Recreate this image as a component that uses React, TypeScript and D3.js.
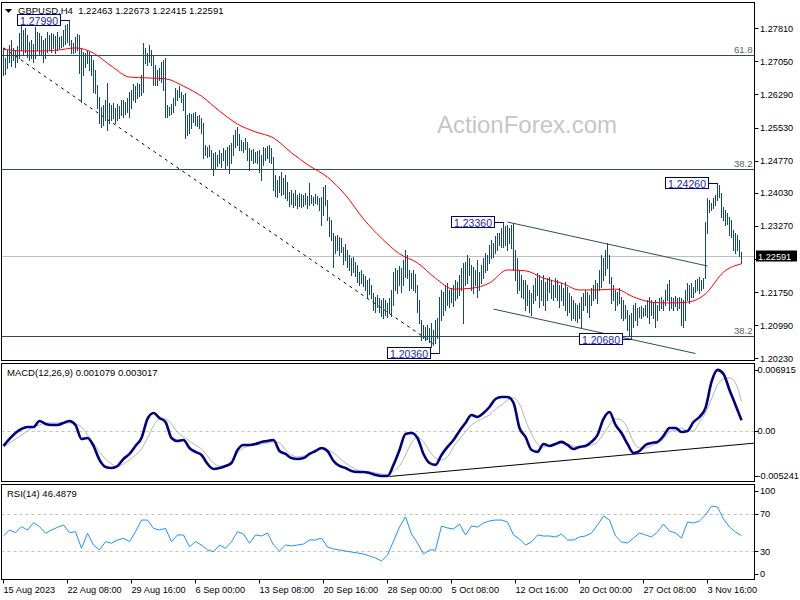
import React, { useEffect, useRef } from "react";
import * as d3 from "d3";

// GBPUSD H4 bars, 15 Aug 2023 00:00 -> 8 Nov 2023 12:00 (one entry per bar)
const highs = [
  1.2736, 1.2713, 1.2731, 1.2743, 1.2754, 1.2736, 1.2731, 1.274, 1.277, 1.2786,
  1.2777, 1.2782, 1.2766, 1.275, 1.2754, 1.2745, 1.2784, 1.2772, 1.277, 1.2763,
  1.2754, 1.2759, 1.2772, 1.2766, 1.277, 1.2768, 1.2763, 1.2772, 1.2761, 1.2763,
  1.2777, 1.2789, 1.2791, 1.2799, 1.2754, 1.2747, 1.2761, 1.2768, 1.2766, 1.2736,
  1.2727, 1.2724, 1.2731, 1.2727, 1.272, 1.2708, 1.2685, 1.2651, 1.2623, 1.26,
  1.2605, 1.2616, 1.2655, 1.2609, 1.2605, 1.2609, 1.2598, 1.2607, 1.2602, 1.2616,
  1.2616, 1.2612, 1.2621, 1.2635, 1.2639, 1.2653, 1.2648, 1.2655, 1.2653, 1.2674,
  1.2747, 1.2736, 1.2724, 1.2743, 1.2731, 1.272, 1.2697, 1.2685, 1.269, 1.2704,
  1.2708, 1.2713, 1.2605, 1.26, 1.2607, 1.2621, 1.2644, 1.2639, 1.2648, 1.2635,
  1.2628, 1.2632, 1.2582, 1.2586, 1.2584, 1.2586, 1.2589, 1.258, 1.2582, 1.2575,
  1.2563, 1.2513, 1.2508, 1.2513, 1.2501, 1.2495, 1.2497, 1.249, 1.2501, 1.2495,
  1.2506, 1.2501, 1.2508, 1.2513, 1.2517, 1.2536, 1.2547, 1.2554, 1.2538, 1.2524,
  1.252, 1.2529, 1.252, 1.2506, 1.2501, 1.2504, 1.2497, 1.2499, 1.2501, 1.249,
  1.2508, 1.2506, 1.2511, 1.2513, 1.2506, 1.2485, 1.2444, 1.2433, 1.2442, 1.2451,
  1.2437, 1.2444, 1.2428, 1.2405, 1.241, 1.2403, 1.241, 1.2398, 1.2403, 1.24,
  1.2398, 1.2403, 1.2396, 1.2426, 1.2398, 1.2393, 1.24, 1.2396, 1.2391, 1.2393,
  1.2416, 1.2421, 1.2387, 1.2348, 1.2341, 1.2311, 1.2304, 1.2306, 1.2302, 1.2299,
  1.2279, 1.2286, 1.2272, 1.226, 1.2253, 1.2256, 1.2244, 1.2237, 1.2221, 1.2226,
  1.2217, 1.2212, 1.2203, 1.2207, 1.2191, 1.2173, 1.2164, 1.2168, 1.2161, 1.2157,
  1.2161, 1.2157, 1.215, 1.2161, 1.218, 1.2221, 1.223, 1.2226, 1.2235, 1.223,
  1.2249, 1.2272, 1.226, 1.2226, 1.2219, 1.2226, 1.2217, 1.2191, 1.2157, 1.2111,
  1.2099, 1.2095, 1.2099, 1.2093, 1.2104, 1.2088, 1.2111, 1.2116, 1.2164, 1.218,
  1.2175, 1.2191, 1.2196, 1.218, 1.2184, 1.2191, 1.2203, 1.2198, 1.2214, 1.223,
  1.2242, 1.2244, 1.226, 1.2253, 1.2237, 1.2233, 1.2226, 1.2249, 1.2221, 1.2237,
  1.2253, 1.2265, 1.226, 1.2283, 1.2295, 1.2288, 1.2304, 1.2311, 1.2311, 1.2322,
  1.2336, 1.2327, 1.2329, 1.2322, 1.2329, 1.2334, 1.2272, 1.2253, 1.2226, 1.2214,
  1.2203, 1.2203, 1.2191, 1.218, 1.2173, 1.2191, 1.2207, 1.2219, 1.2214, 1.2203,
  1.2214, 1.2198, 1.2207, 1.221, 1.2203, 1.2191, 1.2207, 1.2203, 1.2191, 1.2196,
  1.2184, 1.2198, 1.2187, 1.2173, 1.2166, 1.2157, 1.215, 1.2145, 1.215, 1.2164,
  1.2173, 1.218, 1.2175, 1.2168, 1.2184, 1.2191, 1.2203, 1.2196, 1.2226, 1.226,
  1.2253, 1.2272, 1.2288, 1.226, 1.221, 1.2191, 1.218, 1.2175, 1.2184, 1.2164,
  1.2157, 1.2145, 1.2134, 1.2122, 1.2127, 1.2145, 1.215, 1.2139, 1.2141, 1.2143,
  1.2139, 1.2145, 1.2157, 1.2164, 1.2157, 1.2152, 1.2157, 1.2145, 1.2161, 1.2164,
  1.2157, 1.218, 1.2194, 1.2203, 1.2164, 1.2161, 1.2166, 1.2161, 1.2164, 1.2161,
  1.2157, 1.218, 1.2196, 1.2191, 1.2196, 1.2187, 1.2203, 1.2205, 1.221, 1.2203,
  1.2207, 1.2336, 1.2391, 1.2387, 1.238, 1.2391, 1.2398, 1.2426, 1.2421, 1.2403,
  1.2371, 1.2364, 1.2357, 1.2348, 1.2341, 1.2318, 1.2311, 1.2306, 1.2295, 1.22673,
];

const lows = [
  1.2674, 1.2676, 1.269, 1.2704, 1.2694, 1.2708, 1.2692, 1.2704, 1.2713, 1.2731,
  1.272, 1.2727, 1.2715, 1.2708, 1.2713, 1.2704, 1.2713, 1.2731, 1.2722, 1.272,
  1.2704, 1.2713, 1.2727, 1.2731, 1.2727, 1.2736, 1.2724, 1.2731, 1.2736, 1.2738,
  1.274, 1.2745, 1.275, 1.2743, 1.2724, 1.2724, 1.2727, 1.2731, 1.2678, 1.2612,
  1.2674, 1.2692, 1.2701, 1.2685, 1.2674, 1.2635, 1.2632, 1.2598, 1.2563, 1.2554,
  1.2559, 1.257, 1.2547, 1.2563, 1.257, 1.2575, 1.2563, 1.257, 1.2575, 1.2582,
  1.2577, 1.2584, 1.2589, 1.2577, 1.2598, 1.2616, 1.2612, 1.2621, 1.2626, 1.2628,
  1.2635, 1.2701, 1.2697, 1.2704, 1.2697, 1.2651, 1.2651, 1.2651, 1.2662, 1.2658,
  1.2639, 1.2577, 1.2577, 1.2582, 1.2584, 1.2589, 1.2605, 1.2616, 1.2623, 1.2612,
  1.2593, 1.2529, 1.2536, 1.254, 1.2552, 1.2566, 1.2559, 1.2557, 1.2552, 1.254,
  1.2483, 1.249, 1.2485, 1.2488, 1.246, 1.2444, 1.246, 1.2465, 1.2472, 1.2462,
  1.2478, 1.246, 1.2467, 1.2449, 1.2472, 1.249, 1.2508, 1.2513, 1.2501, 1.2501,
  1.2497, 1.2504, 1.2478, 1.2456, 1.2478, 1.2472, 1.2474, 1.2472, 1.2451, 1.2433,
  1.2467, 1.2478, 1.2483, 1.2474, 1.2472, 1.241, 1.2396, 1.2393, 1.2405, 1.2398,
  1.24, 1.2391, 1.2387, 1.2373, 1.2377, 1.2371, 1.2375, 1.2368, 1.2373, 1.2371,
  1.2373, 1.2377, 1.2368, 1.2375, 1.238, 1.2375, 1.238, 1.2377, 1.2364, 1.2329,
  1.2352, 1.2375, 1.2341, 1.2304, 1.2295, 1.2233, 1.2265, 1.2272, 1.226, 1.2267,
  1.224, 1.2249, 1.2233, 1.2226, 1.2214, 1.2221, 1.2212, 1.2198, 1.2191, 1.2196,
  1.2189, 1.218, 1.2164, 1.2171, 1.2161, 1.2134, 1.2129, 1.2141, 1.2129, 1.212,
  1.2116, 1.2122, 1.2118, 1.2127, 1.212, 1.2145, 1.218, 1.2173, 1.2191, 1.2175,
  1.2191, 1.221, 1.2207, 1.218, 1.2184, 1.218, 1.2175, 1.2129, 1.2104, 1.2065,
  1.207, 1.2065, 1.2067, 1.206, 1.2049, 1.2054, 1.2058, 1.207, 1.2036, 1.2111,
  1.2122, 1.2134, 1.2145, 1.2141, 1.2152, 1.2143, 1.2157, 1.2161, 1.2168, 1.218,
  1.2104, 1.2191, 1.2196, 1.2214, 1.218, 1.2173, 1.2191, 1.2164, 1.218, 1.2196,
  1.2207, 1.2221, 1.2226, 1.2242, 1.2253, 1.2256, 1.2265, 1.2272, 1.2283, 1.2279,
  1.2279, 1.2283, 1.2272, 1.2288, 1.2276, 1.2226, 1.2203, 1.2173, 1.218, 1.2164,
  1.2161, 1.2134, 1.2145, 1.2129, 1.2122, 1.215, 1.2157, 1.2168, 1.2141, 1.2157,
  1.2145, 1.2134, 1.2157, 1.2175, 1.2161, 1.2157, 1.2164, 1.2157, 1.2141, 1.2157,
  1.2145, 1.2134, 1.2122, 1.2129, 1.2111, 1.2116, 1.2111, 1.2106, 1.2116, 1.2093,
  1.2134, 1.2145, 1.2129, 1.2118, 1.2145, 1.2157, 1.2161, 1.215, 1.218, 1.2187,
  1.2203, 1.2214, 1.223, 1.2196, 1.215, 1.2157, 1.2134, 1.2145, 1.215, 1.2116,
  1.2111, 1.2116, 1.2088, 1.2077, 1.2068, 1.2095, 1.2111, 1.2099, 1.2118, 1.2116,
  1.212, 1.2122, 1.2118, 1.2104, 1.2122, 1.2116, 1.2095, 1.2111, 1.2134, 1.2139,
  1.2134, 1.2145, 1.2157, 1.2134, 1.2139, 1.2134, 1.2143, 1.2134, 1.2139, 1.2099,
  1.2095, 1.2111, 1.2157, 1.215, 1.2164, 1.2164, 1.2175, 1.218, 1.2173, 1.218,
  1.2184, 1.2207, 1.2311, 1.2359, 1.2364, 1.2368, 1.2375, 1.2387, 1.2393, 1.2348,
  1.2341, 1.2329, 1.2331, 1.2306, 1.2302, 1.2272, 1.2265, 1.2272, 1.2258, 1.22415,
];

// last bar: open, high, low, close
const lastQuote = [1.22463, 1.22673, 1.22415, 1.22591];

// red moving average, read every 9th bar
const MA_STEP = 9;
const maValues = [
  1.2733, 1.2729, 1.2729, 1.2731, 1.2736, 1.2724, 1.2694, 1.2669, 1.2667, 1.2665,
  1.2648, 1.2625, 1.2591, 1.2561, 1.2543, 1.2529, 1.2495, 1.2465, 1.2439, 1.2398,
  1.2343, 1.2299, 1.2263, 1.2242, 1.2207, 1.2182, 1.2184, 1.2196, 1.2226, 1.2224,
  1.2207, 1.2196, 1.218, 1.218, 1.2182, 1.2164, 1.2152, 1.215, 1.2152, 1.2171,
  1.2221, 1.224,
];

// MACD(12,26,9) and RSI(14), read every 3rd bar
const IND_STEP = 3;
const macdMain = [
  -0.0016, -0.00087, -0.00025, 0.00017, 0.00037, 0.00037, 0.001, 0.00069, 0.00058, 0.00058,
  0.00079, 0.001, 0.00058, -0.00087, -0.00077, -0.0016, -0.00305, -0.00378, -0.00389, -0.00368,
  -0.00295, -0.00243, -0.0016, -0.00077, 0.00121, 0.00183, 0.00131, 0.00089, -0.00077, -0.00108,
  -0.00098, -0.00181, -0.00222, -0.00254, -0.00347, -0.00399, -0.00389, -0.00368, -0.00337, -0.00202,
  -0.0015, -0.0015, -0.00139, -0.00118, -0.00108, -0.00098, -0.00212, -0.00243, -0.00285, -0.00295,
  -0.00285, -0.00243, -0.00212, -0.00181, -0.00212, -0.00316, -0.00368, -0.00389, -0.0042, -0.0043,
  -0.0043, -0.00441, -0.00461, -0.00472, -0.00472, -0.00357, -0.00202, -0.00035, -0.00025, -0.00077,
  -0.00243, -0.00337, -0.00357, -0.00254, -0.0017, -0.00098, -0.00004, 0.00079, 0.00162, 0.00141,
  0.00183, 0.00245, 0.00328, 0.00349, 0.00349, 0.00287, 0.00027, -0.00066, -0.00202, -0.00222,
  -0.00139, -0.0016, -0.00139, -0.00118, -0.0015, -0.00191, -0.0017, -0.0016, -0.00118, -0.00046,
  0.00121, 0.00193, 0.00058, -0.00025, -0.00139, -0.00233, -0.00212, -0.0015, -0.00129, -0.00118,
  -0.00056, 0.00027, 0.00027, -0.00015, -0.00004, 0.00089, 0.00141, 0.00235, 0.00505, 0.0063,
  0.00588, 0.00422, 0.00266, 0.001079,
];
const macdSignal = [
  -0.0017, -0.00129, -0.00087, -0.00046, -0.00004, 0.00037, 0.00058, 0.00079, 0.00079, 0.00079,
  0.00079, 0.00079, 0.00069, 0.00037, -0.00046, -0.00129, -0.00222, -0.00295, -0.00347, -0.00378,
  -0.00347, -0.00305, -0.00254, -0.00191, -0.00077, 0.00048, 0.00121, 0.00121, 0.00069, -0.00015,
  -0.00066, -0.00108, -0.0015, -0.00191, -0.00264, -0.00337, -0.00368, -0.00368, -0.00316, -0.00233,
  -0.00181, -0.0016, -0.0015, -0.00139, -0.00129, -0.00118, -0.00129, -0.00202, -0.00254, -0.00274,
  -0.00264, -0.00254, -0.00222, -0.00191, -0.00202, -0.00233, -0.00285, -0.00337, -0.00378, -0.00409,
  -0.0043, -0.0043, -0.00441, -0.00451, -0.00461, -0.0042, -0.00368, -0.00254, -0.00129, -0.00066,
  -0.00118, -0.00212, -0.00285, -0.00305, -0.00274, -0.0017, -0.00087, -0.00015, 0.00058, 0.001,
  0.00131, 0.00162, 0.00224, 0.00266, 0.00318, 0.00339, 0.00276, 0.0011, -0.00035, -0.00139,
  -0.0017, -0.0016, -0.0015, -0.00129, -0.00139, -0.0016, -0.0017, -0.0016, -0.0015, -0.00118,
  -0.00035, 0.00058, 0.00121, 0.0011, 0.00027, -0.00118, -0.00181, -0.00181, -0.0016, -0.00129,
  -0.00087, -0.00015, 0.00006, 0.00027, -0.00004, -0.00004, 0.00089, 0.00183, 0.00328, 0.00474,
  0.00536, 0.00547, 0.00495, 0.003017,
];
const rsiValues = [
  46.1, 52.5, 49.6, 56.1, 52.5, 60.3, 56.1, 49.0, 52.5, 55.4,
  57.9, 49.6, 50.7, 32.9, 49.0, 36.4, 31.1, 40.0, 38.3, 41.8,
  43.6, 40.0, 50.7, 63.2, 63.2, 54.3, 52.5, 54.3, 40.0, 47.2,
  47.2, 34.6, 40.0, 36.4, 31.1, 29.3, 36.4, 32.9, 40.0, 50.7,
  48.2, 38.3, 47.2, 46.1, 49.3, 36.4, 30.0, 36.4, 35.4, 36.4,
  37.5, 41.8, 41.8, 43.9, 34.3, 32.2, 31.1, 30.0, 28.9, 27.9,
  26.8, 24.7, 22.5, 19.3, 25.7, 40.7, 55.7, 66.5, 48.2, 38.6,
  26.8, 31.1, 31.1, 56.8, 54.7, 53.6, 58.9, 47.2, 56.8, 55.7,
  60.0, 62.2, 63.2, 63.2, 61.1, 47.2, 42.9, 36.4, 39.7, 47.2,
  46.1, 46.1, 45.0, 48.2, 41.8, 41.8, 45.0, 46.1, 49.3, 57.9,
  67.5, 63.2, 46.1, 39.7, 38.6, 43.9, 49.3, 47.2, 45.0, 50.4,
  58.9, 51.4, 49.3, 43.9, 61.1, 60.0, 62.2, 68.6, 78.2, 77.2,
  64.3, 55.7, 50.4, 46.4879,
];

// axis ticks
const priceTicks = [1.2781, 1.2705, 1.2629, 1.2553, 1.2477, 1.2403, 1.2327, 1.2251, 1.2175, 1.2099, 1.2023];
const macdTicks = [0.006915, 0, -0.005241];
const macdTickLabels = ["0.006915", "0.00", "-0.005241"];
const rsiTicks = [100, 70, 30, 0];
const timeTickBars = [0, 32, 64, 96, 128, 160, 192, 224, 256, 288, 320, 352];
const timeTickLabels = [
  "15 Aug 2023", "22 Aug 08:00", "29 Aug 16:00", "6 Sep 00:00", "13 Sep 08:00", "20 Sep 16:00",
  "28 Sep 00:00", "5 Oct 08:00", "12 Oct 16:00", "20 Oct 00:00", "27 Oct 08:00", "3 Nov 16:00",
];

// fibonacci levels drawn on the chart
const fibPrices = [1.272, 1.2458, 1.2075];
const fibLabels = ["61.8", "38.2", "38.2"];

// swing high / low price tags
const swingBars = [33, 218, 250, 314, 357];
const swingPrices = [1.2799, 1.2036, 1.2336, 1.2068, 1.2426];

// trend lines (bar index, price)
const dashTrendBars = [0, 216];
const dashTrendPrices = [1.2736, 1.2053];
const channelTopBars = [252, 352];
const channelTopPrices = [1.2336, 1.2235];
const channelLowBars = [245, 346];
const channelLowPrices = [1.2136, 1.2034];
const macdTrendBars = [193, 369];
const macdTrendValues = [-0.00477, -0.00143];

const FONT = "'Liberation Sans', Arial, sans-serif";
const AXIS_FONT_SIZE = 9.2;
const BAR_COLOR = "#174a68";
const OBJ_COLOR = "#2f4f4f";

const App: React.FC = () => {
  const svgRef = useRef<SVGSVGElement>(null);

  useEffect(() => {
    if (!svgRef.current) return;
    document.body.style.margin = "0";

    const svg = d3.select(svgRef.current);
    svg.selectAll("*").remove();

    const left = 1.5;
    const right = 754.5;
    const price = { top: 2.5, bottom: 360.5 };
    const macd = { top: 363.5, bottom: 481.5 };
    const rsi = { top: 484.5, bottom: 579.5 };

    const n = highs.length;
    const x = d3.scaleLinear().domain([0, n - 1]).range([3.5, 3.5 + 2 * (n - 1)]);
    const yPrice = d3.scaleLinear().domain([1.2023, 1.2781]).range([358.3, 28.3]);
    const yMacd = d3.scaleLinear().domain([-0.005241, 0.006915]).range([481, 364]);
    const yRsi = d3.scaleLinear().domain([0, 100]).range([579, 485.7]);

    const defs = svg.append("defs");
    const addClip = (id: string, top: number, bottom: number) =>
      defs
        .append("clipPath")
        .attr("id", id)
        .append("rect")
        .attr("x", left + 0.5)
        .attr("y", top + 0.5)
        .attr("width", right - left - 1)
        .attr("height", bottom - top - 1);
    addClip("clip-price", price.top, price.bottom);
    addClip("clip-macd", macd.top, macd.bottom);
    addClip("clip-rsi", rsi.top, rsi.bottom);

    svg.append("rect").attr("width", 800).attr("height", 600).attr("fill", "#fff");

    // ---------- price panel ----------
    const pg = svg.append("g").attr("clip-path", "url(#clip-price)");

    pg.append("text")
      .attr("x", 437)
      .attr("y", 133)
      .attr("font-family", FONT)
      .attr("font-size", 24)
      .attr("fill", "#c6c6c6")
      .text("ActionForex.com");

    // fib levels
    fibPrices.forEach((p, i) => {
      const yy = Math.round(yPrice(p)) + 0.5;
      pg.append("line")
        .attr("x1", left)
        .attr("x2", right)
        .attr("y1", yy)
        .attr("y2", yy)
        .attr("stroke", OBJ_COLOR)
        .attr("stroke-width", 1);
      pg.append("text")
        .attr("x", right - 2)
        .attr("y", yy - 3)
        .attr("text-anchor", "end")
        .attr("font-family", FONT)
        .attr("font-size", 9.5)
        .attr("fill", "#56636e")
        .text(fibLabels[i]);
    });

    // current price line
    const yClose = Math.round(yPrice(lastQuote[3])) + 0.5;
    pg.append("line")
      .attr("x1", left)
      .attr("x2", right)
      .attr("y1", yClose)
      .attr("y2", yClose)
      .attr("stroke", "#c0c0c0");

    // trend lines
    const trend = (bars: number[], prices: number[], dash?: string) =>
      pg
        .append("line")
        .attr("x1", x(bars[0]))
        .attr("y1", yPrice(prices[0]))
        .attr("x2", x(bars[1]))
        .attr("y2", yPrice(prices[1]))
        .attr("stroke", dash ? "#000" : OBJ_COLOR)
        .attr("stroke-width", 1)
        .attr("stroke-dasharray", dash || null);
    trend(dashTrendBars, dashTrendPrices, "3,4");
    trend(channelTopBars, channelTopPrices);
    trend(channelLowBars, channelLowPrices);

    // high-low bars
    pg.append("g")
      .attr("shape-rendering", "crispEdges")
      .selectAll("line")
      .data(highs)
      .join("line")
      .attr("x1", (_, i) => x(i))
      .attr("x2", (_, i) => x(i))
      .attr("y1", (d) => Math.round(yPrice(d)))
      .attr("y2", (_, i) => Math.round(yPrice(lows[i])) + 1)
      .attr("stroke", BAR_COLOR)
      .attr("stroke-width", 1);

    // moving average
    const maLine = d3
      .line<number>()
      .x((_, i) => x(i * MA_STEP))
      .y((d) => yPrice(d))
      .curve(d3.curveMonotoneX);
    pg.append("path")
      .datum(maValues)
      .attr("d", maLine)
      .attr("fill", "none")
      .attr("stroke", "#ff0000")
      .attr("stroke-width", 1);

    // swing tags
    swingBars.forEach((b, i) => {
      const px = x(b);
      const py = Math.round(yPrice(swingPrices[i])) + 0.5;
      const bw = 43;
      const bx = Math.round(px - 10 - bw) + 0.5;
      pg.append("line")
        .attr("x1", bx + bw)
        .attr("x2", px)
        .attr("y1", py)
        .attr("y2", py)
        .attr("stroke", "#000080");
      pg.append("rect")
        .attr("x", bx)
        .attr("y", py - 6)
        .attr("width", bw)
        .attr("height", 11)
        .attr("fill", "#fff")
        .attr("stroke", "#000080");
      pg.append("text")
        .attr("x", bx + bw / 2)
        .attr("y", py + 4)
        .attr("text-anchor", "middle")
        .attr("font-family", FONT)
        .attr("font-size", 10.5)
        .attr("fill", "#1f1fa3")
        .text(swingPrices[i].toFixed(5));
    });

    // ---------- MACD panel ----------
    const mg = svg.append("g").attr("clip-path", "url(#clip-macd)");
    mg.append("line")
      .attr("x1", left)
      .attr("x2", right)
      .attr("y1", Math.round(yMacd(0)) + 0.5)
      .attr("y2", Math.round(yMacd(0)) + 0.5)
      .attr("stroke", "#c0c0c0")
      .attr("stroke-dasharray", "3,3");

    const mSlope =
      (macdTrendValues[1] - macdTrendValues[0]) / (macdTrendBars[1] - macdTrendBars[0]);
    const mEndBar = x.invert(right);
    mg.append("line")
      .attr("x1", x(macdTrendBars[0]))
      .attr("y1", yMacd(macdTrendValues[0]))
      .attr("x2", right)
      .attr("y2", yMacd(macdTrendValues[0] + mSlope * (mEndBar - macdTrendBars[0])))
      .attr("stroke", "#000")
      .attr("stroke-width", 1);

    const indLine = (yScale: d3.ScaleLinear<number, number>) =>
      d3
        .line<number>()
        .x((_, i) => x(i * IND_STEP))
        .y((d) => yScale(d))
        .curve(d3.curveMonotoneX);

    mg.append("path")
      .datum(macdSignal)
      .attr("d", indLine(yMacd))
      .attr("fill", "none")
      .attr("stroke", "#b4b4b4")
      .attr("stroke-width", 1);
    mg.append("path")
      .datum(macdMain)
      .attr("d", indLine(yMacd))
      .attr("fill", "none")
      .attr("stroke", "#000080")
      .attr("stroke-width", 2.6)
      .attr("stroke-linejoin", "round");

    // ---------- RSI panel ----------
    const rg = svg.append("g").attr("clip-path", "url(#clip-rsi)");
    [70, 30].forEach((lv) => {
      const yy = Math.round(yRsi(lv)) + 0.5;
      rg.append("line")
        .attr("x1", left)
        .attr("x2", right)
        .attr("y1", yy)
        .attr("y2", yy)
        .attr("stroke", "#c0c0c0")
        .attr("stroke-dasharray", "3,3");
    });
    rg.append("path")
      .datum(rsiValues)
      .attr("d", indLine(yRsi).curve(d3.curveLinear))
      .attr("fill", "none")
      .attr("stroke", "#1e90ff")
      .attr("stroke-width", 1);

    // ---------- frames ----------
    [price, macd, rsi].forEach((p) => {
      svg
        .append("rect")
        .attr("x", left)
        .attr("y", p.top)
        .attr("width", right - left)
        .attr("height", p.bottom - p.top)
        .attr("fill", "none")
        .attr("stroke", "#000")
        .attr("stroke-width", 1);
    });

    // ---------- headers ----------
    svg
      .append("path")
      .attr("d", "M5,9 L12,9 L8.5,13 Z")
      .attr("fill", "#000");
    const header = (tx: number, ty: number, s: string) =>
      svg
        .append("text")
        .attr("x", tx)
        .attr("y", ty)
        .attr("font-family", FONT)
        .attr("font-size", 9.5)
        .attr("fill", "#000")
        .style("white-space", "pre")
        .text(s);
    header(18, 14, `GBPUSD,H4  ${lastQuote.map((v) => v.toFixed(5)).join(" ")}`);
    header(7, 376, `MACD(12,26,9) ${macdMain[macdMain.length - 1].toFixed(6)} ${macdSignal[macdSignal.length - 1].toFixed(6)}`);
    header(7, 497, `RSI(14) ${rsiValues[rsiValues.length - 1].toFixed(4)}`);

    // ---------- right axis ----------
    const ax = svg
      .append("g")
      .attr("font-family", FONT)
      .attr("font-size", AXIS_FONT_SIZE)
      .attr("fill", "#000");
    const tickMark = (yy: number) =>
      ax
        .append("line")
        .attr("x1", right)
        .attr("x2", right + 4)
        .attr("y1", Math.round(yy) + 0.5)
        .attr("y2", Math.round(yy) + 0.5)
        .attr("stroke", "#000");
    priceTicks.forEach((t) => {
      const yy = yPrice(t);
      tickMark(yy);
      if (Math.abs(yy - yPrice(lastQuote[3])) < 8) return;
      ax.append("text").attr("x", 760).attr("y", yy + 3.5).text(t.toFixed(5));
    });

    // last price tag
    svg
      .append("rect")
      .attr("x", 756)
      .attr("y", yClose - 6)
      .attr("width", 41)
      .attr("height", 11)
      .attr("fill", "#000");
    svg
      .append("text")
      .attr("x", 758)
      .attr("y", yClose + 3.5)
      .attr("font-family", FONT)
      .attr("font-size", AXIS_FONT_SIZE)
      .attr("fill", "#fff")
      .text(lastQuote[3].toFixed(5));

    const clampY = (yy: number, top: number, bottom: number) =>
      Math.max(top + 6, Math.min(bottom - 6, yy));
    macdTicks.forEach((t, i) => {
      const yy = clampY(yMacd(t), macd.top, macd.bottom);
      tickMark(yy);
      ax.append("text").attr("x", 757.5).attr("y", yy + 3.5).text(macdTickLabels[i]);
    });
    rsiTicks.forEach((t) => {
      const yy = clampY(yRsi(t), rsi.top, rsi.bottom);
      tickMark(yy);
      ax.append("text").attr("x", 760).attr("y", yy + 3.5).text(String(t));
    });

    // ---------- time axis ----------
    timeTickBars.forEach((b, i) => {
      const xx = Math.round(x(b)) - 0.5;
      ax.append("line")
        .attr("x1", xx)
        .attr("x2", xx)
        .attr("y1", rsi.bottom)
        .attr("y2", rsi.bottom + 4)
        .attr("stroke", "#000");
      ax.append("text").attr("x", xx).attr("y", 593).text(timeTickLabels[i]);
    });
  }, []);

  return <svg ref={svgRef} width={800} height={600} style={{ display: "block" }} />;
};

export default App;
